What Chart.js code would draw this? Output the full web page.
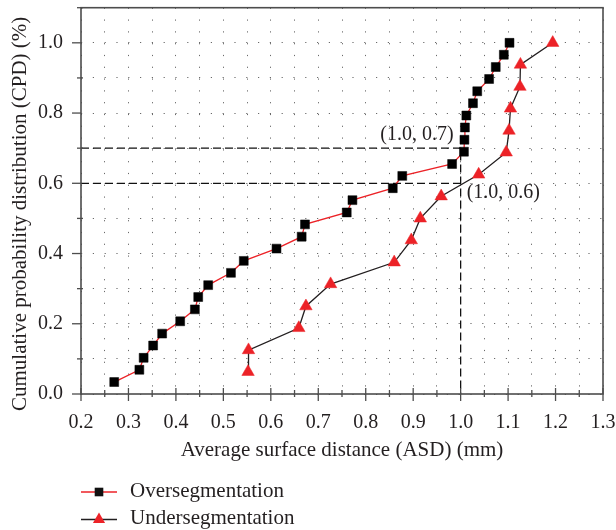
<!DOCTYPE html>
<html><head><meta charset="utf-8">
<script src="https://cdn.jsdelivr.net/npm/chart.js@4.4.1/dist/chart.umd.min.js"></script>
<style>html,body{margin:0;padding:0;background:#fff;}canvas{display:block;}</style>
</head><body>
<canvas id="c" width="616" height="530"></canvas>
<script>
// ---- data ----
const overASD = [0.270,0.323,0.332,0.352,0.371,0.409,0.440,0.447,0.468,0.516,0.543,0.612,0.665,0.672,0.760,0.772,0.857,0.877,0.982,1.007,1.008,1.009,1.012,1.026,1.035,1.060,1.074,1.091,1.103];
const overCPD = [0.034,0.069,0.103,0.138,0.172,0.207,0.241,0.276,0.310,0.345,0.379,0.414,0.448,0.483,0.517,0.552,0.586,0.621,0.655,0.690,0.724,0.759,0.793,0.828,0.862,0.897,0.931,0.966,1.000];
const underASD = [0.552,0.553,0.659,0.674,0.726,0.860,0.896,0.915,0.959,1.038,1.096,1.102,1.105,1.125,1.126,1.194];
const underCPD = [0.063,0.125,0.188,0.250,0.313,0.375,0.438,0.500,0.563,0.625,0.688,0.750,0.813,0.875,0.938,1.000];
const ref07ASD = [0.2, 1.0, 1.0];
const ref07CPD = [0.7, 0.7, 0.0];
const ref06ASD = [0.2, 1.0];
const ref06CPD = [0.6, 0.6];
const seriesNames = ['Oversegmentation', 'Undersegmentation'];
const xTickLabels = ['0.2','0.3','0.4','0.5','0.6','0.7','0.8','0.9','1.0','1.1','1.2','1.3'];
const yTickLabels = ['0.0','0.2','0.4','0.6','0.8','1.0'];
const xTitle = 'Average surface distance (ASD) (mm)';
const yTitle = 'Cumulative probability distribution (CPD) (%)';
const annoTexts = ['(1.0, 0.7)', '(1.0, 0.6)'];
const annoASD = [1.0, 1.0];
const annoCPD = [0.7, 0.6];

const pts = (xs, ys) => xs.map((v, i) => ({x: v, y: ys[i]}));
const FONT = 'Liberation Serif';
const RED = '#ec2227';
const INK = '#231f20';
const AXIS = '#4d4d4d';

const framePlugin = {
  id: 'frame',
  afterDraw(chart) {
    const {ctx, chartArea: a, scales: {x, y}} = chart;
    ctx.save();
    ctx.strokeStyle = AXIS;
    ctx.lineWidth = 1.6;
    ctx.strokeRect(a.left, a.top, a.right - a.left, a.bottom - a.top);
    ctx.lineWidth = 1.3;
    x.ticks.forEach((t, i) => {
      const px = x.getPixelForValue(t.value);
      const major = i % 2 === 0;
      ctx.beginPath();
      ctx.moveTo(px, a.bottom - (major ? 6 : 4));
      ctx.lineTo(px, a.bottom + (major ? 7 : 3));
      ctx.stroke();
    });
    y.ticks.forEach((t, i) => {
      const py = y.getPixelForValue(t.value);
      const major = i % 2 === 0;
      ctx.beginPath();
      ctx.moveTo(a.left - (major ? 9 : 4), py);
      ctx.lineTo(a.left + (major ? 0 : 2), py);
      ctx.stroke();
    });
    // y axis title (rotated)
    ctx.save();
    ctx.fillStyle = INK;
    ctx.font = '21px "' + FONT + '"';
    ctx.textAlign = 'center';
    ctx.textBaseline = 'alphabetic';
    ctx.translate(26, (a.top + a.bottom) / 2 + 13);
    ctx.rotate(-Math.PI / 2);
    ctx.fillText(yTitle, 0, 0);
    ctx.restore();
    // annotations
    ctx.fillStyle = INK;
    ctx.font = '20px "' + FONT + '"';
    ctx.textBaseline = 'alphabetic';
    ctx.textAlign = 'right';
    ctx.fillText(annoTexts[0], x.getPixelForValue(annoASD[0]) - 7, y.getPixelForValue(annoCPD[0]) - 8);
    ctx.textAlign = 'left';
    ctx.fillText(annoTexts[1], x.getPixelForValue(annoASD[1]) + 6, y.getPixelForValue(annoCPD[1]) + 15);
    // legend
    const lx0 = 81, lx1 = 117, mx = 99;
    const ly = [492, 519.5];
    ctx.lineWidth = 1.3;
    ctx.strokeStyle = RED;
    ctx.beginPath(); ctx.moveTo(lx0, ly[0]); ctx.lineTo(lx1, ly[0]); ctx.stroke();
    ctx.fillStyle = '#111';
    ctx.fillRect(mx - 4.3, ly[0] - 4.3, 8.6, 8.6);
    ctx.strokeStyle = INK;
    ctx.beginPath(); ctx.moveTo(lx0, ly[1]); ctx.lineTo(lx1, ly[1]); ctx.stroke();
    ctx.fillStyle = RED;
    const r = 7;
    ctx.beginPath();
    ctx.moveTo(mx, ly[1] - r);
    ctx.lineTo(mx + r * Math.sin(2 * Math.PI / 3), ly[1] + r / 2);
    ctx.lineTo(mx - r * Math.sin(2 * Math.PI / 3), ly[1] + r / 2);
    ctx.closePath(); ctx.fill();
    ctx.fillStyle = INK;
    ctx.font = '21px "' + FONT + '"';
    ctx.textAlign = 'left';
    ctx.fillText(seriesNames[0], 130, 497);
    ctx.fillText(seriesNames[1], 130, 523.5);
    ctx.restore();
  }
};

new Chart(document.getElementById('c'), {
  type: 'scatter',
  data: {
    datasets: [
      {label: seriesNames[0], data: pts(overASD, overCPD), showLine: true, borderColor: RED, borderWidth: 1.3,
       pointStyle: 'rect', pointRadius: 6.3, pointBackgroundColor: '#000', pointBorderColor: '#000', pointBorderWidth: 0.5, order: 1},
      {label: seriesNames[1], data: pts(underASD, underCPD), showLine: true, borderColor: INK, borderWidth: 1.3,
       pointStyle: 'triangle', pointRadius: 7.2, pointBackgroundColor: RED, pointBorderColor: RED, pointBorderWidth: 0.5, order: 2},
      {label: 'ref07', data: pts(ref07ASD, ref07CPD), showLine: true, borderColor: '#111', borderWidth: 1.3, borderDash: [8, 4],
       pointRadius: 0, order: 10},
      {label: 'ref06', data: pts(ref06ASD, ref06CPD), showLine: true, borderColor: '#111', borderWidth: 1.3, borderDash: [8, 4],
       pointRadius: 0, order: 11}
    ]
  },
  options: {
    responsive: false,
    animation: false,
    events: [],
    layout: {padding: {left: 0, top: 6, right: 13, bottom: 67}},
    plugins: {legend: {display: false}, tooltip: {enabled: false}},
    scales: {
      x: {
        type: 'linear', min: 0.2, max: 1.3,
        ticks: {stepSize: 0.05, autoSkip: false, maxRotation: 0, minRotation: 0, padding: 17, color: INK,
                font: {family: FONT, size: 20},
                callback: (v, i) => (i % 2 === 0 ? xTickLabels[i / 2] : '')},
        grid: {color: '#6a6a6a', lineWidth: 1, drawTicks: false},
        border: {display: false, dash: [1.2, 10.6]},
        title: {display: true, text: xTitle, color: INK, font: {family: FONT, size: 21}, padding: {top: 0, bottom: 0}},
        afterFit(s) { s.height = 69; s.paddingLeft = 0; s.paddingRight = 0; }
      },
      y: {
        type: 'linear', min: 0, max: 1.1,
        ticks: {stepSize: 0.1, autoSkip: false, padding: 18, color: INK,
                font: {family: FONT, size: 20},
                callback: (v, i) => (i % 2 === 0 ? yTickLabels[i / 2] : '')},
        grid: {color: '#6a6a6a', lineWidth: 1, drawTicks: false},
        border: {display: false, dash: [1.2, 10.6]},
        title: {display: false},
        afterFit(s) { s.width = 81; s.paddingTop = 0; s.paddingBottom = 0; }
      }
    }
  },
  plugins: [framePlugin]
});
</script>
</body></html>
